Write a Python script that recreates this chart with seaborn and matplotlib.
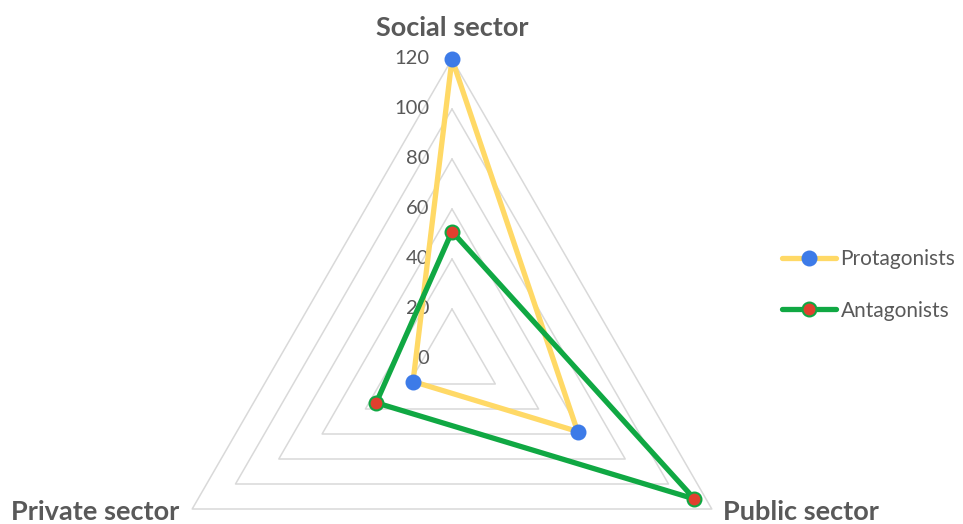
import numpy as np
import pandas as pd
import matplotlib
matplotlib.use("Agg")
import matplotlib.pyplot as plt
import matplotlib.transforms as mtransforms
from matplotlib.lines import Line2D
import seaborn as sns

categories = ["Social sector", "Public sector", "Private sector"]
protagonists = [120, 58, 18]
antagonists = [51, 112, 35]
tick_values = [0, 20, 40, 60, 80, 100, 120]
series_names = ["Protagonists", "Antagonists"]

sns.set_theme(style="white")
plt.rcParams['font.family'] = ['Lato', 'DejaVu Sans']

W, H = 963, 524
fig = plt.figure(figsize=(W / 100, H / 100), dpi=100)
cx, cy, R = 452, 524 - 359, 300
ax = fig.add_axes([(cx - R) / W, (cy - R) / H, 2 * R / W, 2 * R / H], projection="polar")
ax.set_theta_offset(np.pi / 2)
ax.set_theta_direction(-1)
ax.set_ylim(0, 120)
ax.grid(False)
ax.spines["polar"].set_visible(False)
ax.set_xticks([])
ax.set_yticks([])
ax.patch.set_alpha(0)

n = len(categories)
angles = np.arange(n) * 2 * np.pi / n
closed = np.append(angles, angles[0])

# triangle gridlines
for v in tick_values[1:]:
    ax.plot(closed, [v] * (n + 1), color="#d9d9d9", lw=1.1, zorder=1, clip_on=False)

grey = "#595959"
off = mtransforms.offset_copy(ax.transData, fig=fig, x=-23, y=0, units="dots")
for v in tick_values:
    ax.text(0, v, str(v), transform=off, ha="right", va="center", fontsize=14.5, color=grey, clip_on=False)

rows = []
for name, vals in zip(series_names, [protagonists, antagonists]):
    for i, a in enumerate(list(angles) + [angles[0]]):
        rows.append({"series": name, "theta": a, "r": (vals + [vals[0]])[i], "order": i})
df = pd.DataFrame(rows)

line_colors = {"Protagonists": "#FFD966", "Antagonists": "#10A843"}
marker_colors = {"Protagonists": "#3D7BE8", "Antagonists": "#E0402E"}
marker_edges = {"Protagonists": "#3D7BE8", "Antagonists": "#10A843"}

for name in series_names:
    d = df[df.series == name]
    sns.lineplot(data=d, x="theta", y="r", sort=False, ax=ax, color=line_colors[name],
                 lw=3.8, zorder=3, estimator=None, legend=False)
    ax.plot(d.theta[:-1], d.r[:-1], ls="none", marker="o", ms=10,
            mfc=marker_colors[name], mec=marker_edges[name], mew=1.5, zorder=4, clip_on=False)
ax.set_xlabel("")
ax.set_ylabel("")

# category labels
fs_cat = 19.5
fig.text(452 / W, 1 - 28 / H, categories[0], ha="center", va="center", fontsize=fs_cat, fontweight="bold", color=grey)
fig.text(801 / W, 1 - 512 / H, categories[1], ha="center", va="center", fontsize=fs_cat, fontweight="bold", color=grey)
fig.text(95 / W, 1 - 512 / H, categories[2], ha="center", va="center", fontsize=fs_cat, fontweight="bold", color=grey)

handles = [Line2D([0], [0], color=line_colors[s], lw=3.8, marker="o", ms=10,
                  mfc=marker_colors[s], mec=marker_edges[s], mew=1.5) for s in series_names]
fig.legend(handles, series_names, loc="center left", bbox_to_anchor=(776 / W, 1 - 285 / H),
           frameon=False, fontsize=15, labelcolor=grey, handlelength=2.6,
           handletextpad=0.2, labelspacing=1.5, borderaxespad=0, borderpad=0.3)

fig.savefig("out.png", dpi=100)
